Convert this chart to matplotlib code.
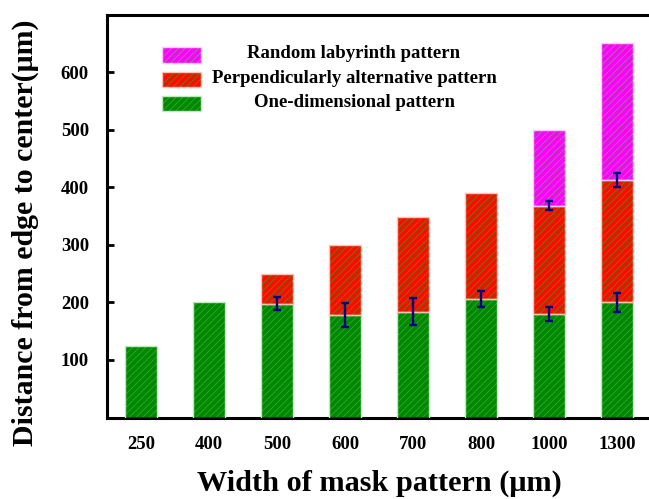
import numpy as np
import matplotlib
matplotlib.use("Agg")
import matplotlib.pyplot as plt
from matplotlib.patches import Rectangle

# ---- data ----
categories = ["250", "400", "500", "600", "700", "800", "1000", "1300"]
one_dim = [125, 200, 198, 178, 184, 206, 180, 200]          # green tops
perp_top = [np.nan, np.nan, 250, 300, 349, 390, 368, 412]     # red tops
rand_top = [np.nan, np.nan, np.nan, np.nan, np.nan, np.nan, 500, 650]  # magenta tops
one_dim_err = [np.nan, np.nan, 12, 21, 23, 14, 12, 16]
perp_err = [np.nan, np.nan, np.nan, np.nan, np.nan, np.nan, 8, 12]
legend_labels = ["Random labyrinth pattern",
                 "Perpendicularly alternative pattern",
                 "One-dimensional pattern"]
yticks = [100, 200, 300, 400, 500, 600]

plt.rcParams['font.family'] = ['Liberation Serif', 'DejaVu Serif']
plt.rcParams['font.weight'] = 'bold'
plt.rcParams['hatch.linewidth'] = 0.6

W, H = 649, 499
fig = plt.figure(figsize=(W / 100, H / 100), dpi=100)
L, R, T, B = 107, 651, 14.5, 417.5
ax = fig.add_axes([L / W, 1 - B / H, (R - L) / W, (B - T) / H])

x = np.arange(len(categories))
width = 0.48
g = np.array(one_dim, float)
r = np.array(perp_top, float)
m = np.array(rand_top, float)

styles = {
    'green': dict(face='#008800', hatch='#30a830', edge='#bfe8bf'),
    'red': dict(face='#ff0a00', hatch='#4f8f00', edge='#ffc0b8'),
    'mag': dict(face='#ff00ff', hatch='#8f8a8c', edge='#ffc8ff'),
}
HATCH = '/////'

def draw(heights, bottoms, st):
    ax.bar(x, heights, width, bottom=bottoms, color=st['face'],
           edgecolor=st['hatch'], linewidth=0, hatch=HATCH, zorder=2)
    ax.bar(x, heights, width, bottom=bottoms, facecolor='none',
           edgecolor=st['edge'], linewidth=1.0, zorder=3)

draw(g, 0, styles['green'])
draw(r - g, g, styles['red'])
draw(m - r, r, styles['mag'])

ax.errorbar(x, g, yerr=np.array(one_dim_err), fmt='none', ecolor='#000080',
            elinewidth=1.7, capsize=3, capthick=1.7, zorder=5)
ax.errorbar(x, r, yerr=np.array(perp_err), fmt='none', ecolor='#000080',
            elinewidth=1.7, capsize=3, capthick=1.7, zorder=5)

ax.set_xlim(-0.5, 7.5)
ax.set_ylim(0, 700)
ax.set_xticks(x)
ax.set_xticklabels(categories)
ax.set_yticks(yticks)
ax.tick_params(axis='y', direction='in', length=5, width=2, pad=13, labelsize=13.5)
ax.tick_params(axis='x', length=0, pad=13, labelsize=13.5)
for lab in ax.get_xticklabels() + ax.get_yticklabels():
    lab.set_fontweight('bold')

for s in ['left', 'bottom', 'top']:
    ax.spines[s].set_linewidth(2.2)
ax.spines['right'].set_visible(False)

ax.set_xlabel("Width of mask pattern (μm)", fontsize=21.8, fontweight='bold')
ax.set_ylabel("Distance from edge to center(μm)", fontsize=21.5, fontweight='bold')
ax.xaxis.set_label_coords(0.5, (B - 470) / (B - T))
ax.yaxis.set_label_coords((39 - L) / (R - L), (B - 233) / (B - T))

# ---- legend (manual to get centred texts) ----
def axx(px):
    return (px - L) / (R - L)

def axy(py):
    return (B - py) / (B - T)

leg_styles = [styles['mag'], styles['red'], styles['green']]
patch_tops = [47.5, 71.5, 96]
baselines = [57.5, 83, 107.3]
for lab, st, pt, bl in zip(legend_labels, leg_styles, patch_tops, baselines):
    ax.add_patch(Rectangle((axx(162), axy(pt + 15)), axx(201) - axx(162),
                           axy(pt) - axy(pt + 15), transform=ax.transAxes,
                           facecolor=st['face'], edgecolor=st['hatch'],
                           linewidth=0, hatch=HATCH, zorder=4))
    ax.add_patch(Rectangle((axx(162), axy(pt + 15)), axx(201) - axx(162),
                           axy(pt) - axy(pt + 15), transform=ax.transAxes,
                           facecolor='none', edgecolor=st['edge'],
                           linewidth=1.0, zorder=4))
    ax.text(axx(354), axy(bl), lab, transform=ax.transAxes, ha='center',
            va='baseline', fontsize=13.5, fontweight='bold', zorder=4)

fig.savefig("out.png", dpi=100)
